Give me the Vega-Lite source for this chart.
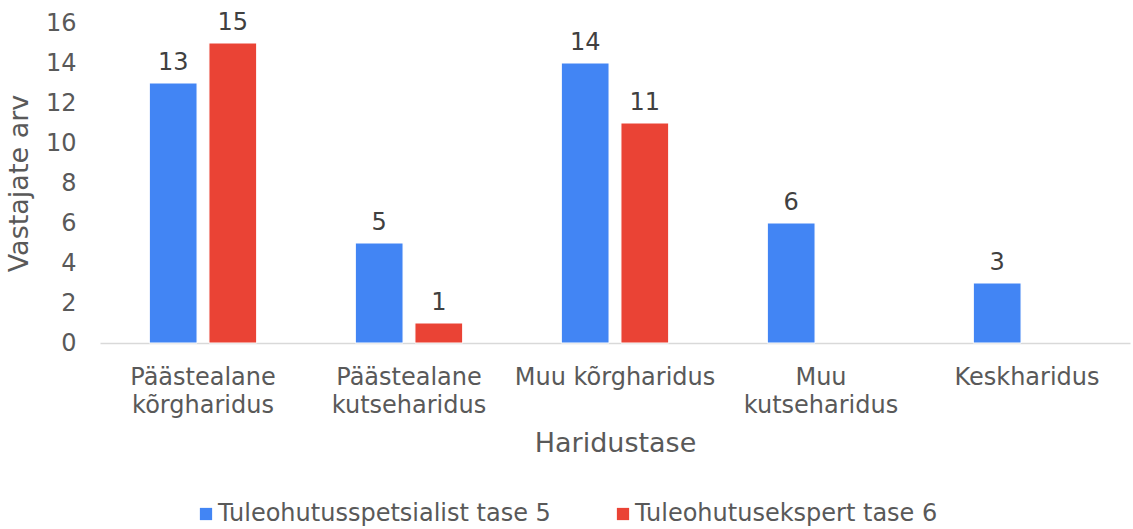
{
  "$schema": "https://vega.github.io/schema/vega-lite/v6.json",
  "width": 1030,
  "height": 320,
  "autosize": {"type": "none"},
  "padding": {"left": 100, "top": 23, "right": 3, "bottom": 186},
  "background": "white",
  "config": {
    "font": "DejaVu Sans",
    "view": {"stroke": null}
  },
  "data": {
    "values": [
      {"haridus": "Päästealane kõrgharidus", "tase": "Tuleohutusspetsialist tase 5", "arv": 13},
      {"haridus": "Päästealane kõrgharidus", "tase": "Tuleohutusekspert tase 6", "arv": 15},
      {"haridus": "Päästealane kutseharidus", "tase": "Tuleohutusspetsialist tase 5", "arv": 5},
      {"haridus": "Päästealane kutseharidus", "tase": "Tuleohutusekspert tase 6", "arv": 1},
      {"haridus": "Muu kõrgharidus", "tase": "Tuleohutusspetsialist tase 5", "arv": 14},
      {"haridus": "Muu kõrgharidus", "tase": "Tuleohutusekspert tase 6", "arv": 11},
      {"haridus": "Muu kutseharidus", "tase": "Tuleohutusspetsialist tase 5", "arv": 6},
      {"haridus": "Keskharidus", "tase": "Tuleohutusspetsialist tase 5", "arv": 3}
    ]
  },
  "encoding": {
    "x": {
      "field": "haridus",
      "type": "nominal",
      "sort": ["Päästealane kõrgharidus", "Päästealane kutseharidus", "Muu kõrgharidus", "Muu kutseharidus", "Keskharidus"],
      "scale": {"paddingInner": 0.45, "paddingOuter": 0.225},
      "axis": {
        "title": "Haridustase",
        "titleFontSize": 27,
        "titleFontWeight": "normal",
        "titleColor": "#595959",
        "titlePadding": 13,
        "labelAngle": 0,
        "labelFontSize": 24,
        "labelColor": "#595959",
        "labelPadding": 22,
        "labelLineHeight": 28,
        "labelLimit": 0,
        "labelExpr": "(datum.label == 'Muu kõrgharidus' || datum.label == 'Keskharidus') ? datum.label : split(datum.label, ' ')",
        "ticks": false,
        "domainColor": "#d9d9d9",
        "domainWidth": 1.5
      }
    },
    "xOffset": {
      "field": "tase",
      "type": "nominal",
      "sort": ["Tuleohutusspetsialist tase 5", "Tuleohutusekspert tase 6"],
      "scale": {"paddingInner": 0.2, "paddingOuter": 0.05}
    },
    "y": {
      "field": "arv",
      "type": "quantitative",
      "scale": {"domain": [0, 16]},
      "axis": {
        "title": "Vastajate arv",
        "titleFontSize": 27,
        "titleFontWeight": "normal",
        "titleColor": "#595959",
        "titlePadding": 12,
        "values": [0, 2, 4, 6, 8, 10, 12, 14, 16],
        "labelFontSize": 24,
        "labelColor": "#595959",
        "labelPadding": 24,
        "ticks": false,
        "domain": false,
        "grid": false
      }
    }
  },
  "layer": [
    {
      "mark": {"type": "bar", "stroke": "white", "strokeWidth": 1},
      "encoding": {
        "color": {
          "field": "tase",
          "type": "nominal",
          "sort": ["Tuleohutusspetsialist tase 5", "Tuleohutusekspert tase 6"],
          "scale": {"domain": ["Tuleohutusspetsialist tase 5", "Tuleohutusekspert tase 6"], "range": ["#4285f4", "#ea4335"]},
          "legend": {
            "title": null,
            "orient": "none",
            "direction": "horizontal",
            "legendX": 94,
            "legendY": 479,
            "symbolType": "square",
            "symbolSize": 150,
            "symbolStrokeWidth": 0,
            "labelFontSize": 24,
            "labelColor": "#595959",
            "labelLimit": 0,
            "labelOffset": 0,
            "columnPadding": 60
          }
        }
      }
    },
    {
      "mark": {"type": "text", "baseline": "bottom", "dy": -8, "fontSize": 24, "color": "#404040"},
      "encoding": {"text": {"field": "arv", "type": "quantitative"}}
    }
  ]
}
